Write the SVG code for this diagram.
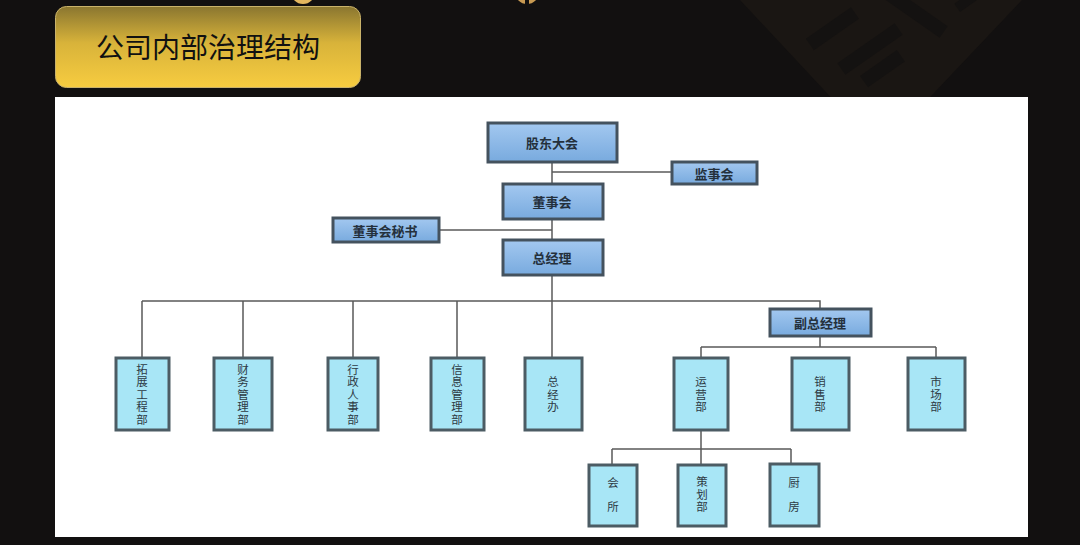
<svg xmlns="http://www.w3.org/2000/svg" width="1080" height="545" viewBox="0 0 1080 545">
<defs>
<linearGradient id="gold" x1="0" y1="0" x2="0" y2="1">
<stop offset="0" stop-color="#8a7630"/>
<stop offset="0.45" stop-color="#d8b33a"/>
<stop offset="1" stop-color="#f7cc40"/>
</linearGradient>
<linearGradient id="blue" x1="0" y1="0" x2="0" y2="1">
<stop offset="0" stop-color="#a3c8f0"/>
<stop offset="1" stop-color="#78aade"/>
</linearGradient>
<style>
.blue{fill:url(#blue);stroke:#44525e;stroke-width:3}
.cyan{fill:#a8e6f6;stroke:#4c5c64;stroke-width:3}
.t{font-family:"Noto Sans CJK SC","Liberation Sans",sans-serif;font-weight:bold;font-size:13px;fill:#24303c;text-anchor:middle;dominant-baseline:central}
.v{font-family:"Noto Sans CJK SC","Liberation Sans",sans-serif;font-size:11.5px;fill:#2e3a44;text-anchor:middle;writing-mode:vertical-rl;letter-spacing:1px}
.w{letter-spacing:12.5px}
.ln{stroke:#5a5a5a;stroke-width:1.5;fill:none}
</style>
</defs>
<rect x="0" y="0" width="1080" height="545" fill="#121010"/>
<g id="decor">
<polygon points="740,0 1022,0 880,150" fill="#1a1613"/>
<g fill="#141211">
<rect x="805" y="22" width="55" height="14" transform="rotate(-35 832 29)"/>
<rect x="835" y="42" width="70" height="14" transform="rotate(-35 870 49)"/>
<rect x="860" y="62" width="45" height="14" transform="rotate(-35 882 69)"/>
<rect x="880" y="5" width="70" height="14" transform="rotate(35 915 12)"/>
<rect x="955" y="-6" width="30" height="10" transform="rotate(-35 970 0)"/>
</g>
<circle cx="303" cy="-8" r="12" fill="#e3b65e"/>
<circle cx="527" cy="-8" r="12" fill="#c89a52"/>
<rect x="525" y="0" width="4" height="5" fill="#121010"/>
</g>
<g id="title">
<rect x="55.5" y="6.5" width="305" height="81" rx="11" fill="url(#gold)" stroke="#c9b26a" stroke-width="1"/>
<text x="208" y="46" font-family="'Noto Sans CJK SC','Liberation Sans',sans-serif" font-size="28" fill="#111" text-anchor="middle" dominant-baseline="central">公司内部治理结构</text>
</g>
<rect id="panel" x="55" y="97" width="973" height="440" fill="#ffffff"/>
<g id="connectors">
<path class="ln" d="M552,162 V301"/>
<path class="ln" d="M552,172 H672"/>
<path class="ln" d="M439,230 H552"/>
<path class="ln" d="M142,301 H820 V309"/>
<path class="ln" d="M142,301 V358 M243,301 V358 M353,301 V358 M457,301 V358 M552,301 V358"/>
<path class="ln" d="M820,336 V347 M701,347 H936 M701,347 V358 M936,347 V358"/>
<path class="ln" d="M701,430 V449 M612,449 H791 M612,449 V465 M701,449 V465 M791,449 V463"/>
</g>
<g id="n-gddh"><rect class="blue" x="488" y="123" width="129" height="39"/><text class="t" x="552" y="142">股东大会</text></g>
<g id="n-jsh"><rect class="blue" x="672" y="162" width="85" height="22"/><text class="t" x="714" y="173">监事会</text></g>
<g id="n-dsh"><rect class="blue" x="503" y="184" width="100" height="35"/><text class="t" x="552" y="201">董事会</text></g>
<g id="n-dshms"><rect class="blue" x="333" y="218" width="106" height="24"/><text class="t" x="385" y="230">董事会秘书</text></g>
<g id="n-zjl"><rect class="blue" x="503" y="240" width="100" height="35"/><text class="t" x="552" y="257">总经理</text></g>
<g id="n-fzjl"><rect class="blue" x="770" y="309" width="101" height="27"/><text class="t" x="820" y="322">副总经理</text></g>
<g id="n-tz"><rect class="cyan" x="116" y="358" width="53" height="72"/><text class="v" x="142" y="395">拓展工程部</text></g>
<g id="n-cw"><rect class="cyan" x="214" y="358" width="58" height="72"/><text class="v" x="243" y="395">财务管理部</text></g>
<g id="n-xz"><rect class="cyan" x="328" y="358" width="50" height="72"/><text class="v" x="353" y="395">行政人事部</text></g>
<g id="n-xx"><rect class="cyan" x="431" y="358" width="53" height="72"/><text class="v" x="457" y="395">信息管理部</text></g>
<g id="n-zjb"><rect class="cyan" x="525" y="358" width="57" height="72"/><text class="v" x="553" y="395">总经办</text></g>
<g id="n-yy"><rect class="cyan" x="674" y="358" width="54" height="72"/><text class="v" x="701" y="395">运营部</text></g>
<g id="n-xs"><rect class="cyan" x="792" y="358" width="57" height="72"/><text class="v" x="820" y="395">销售部</text></g>
<g id="n-sc"><rect class="cyan" x="908" y="358" width="57" height="72"/><text class="v" x="936" y="395">市场部</text></g>
<g id="n-hs"><rect class="cyan" x="589" y="465" width="48" height="61"/><text class="v w" x="613" y="501">会所</text></g>
<g id="n-ch"><rect class="cyan" x="678" y="465" width="48" height="61"/><text class="v" x="702" y="495">策划部</text></g>
<g id="n-cf"><rect class="cyan" x="770" y="464" width="49" height="62"/><text class="v w" x="794" y="501">厨房</text></g>
</svg>
